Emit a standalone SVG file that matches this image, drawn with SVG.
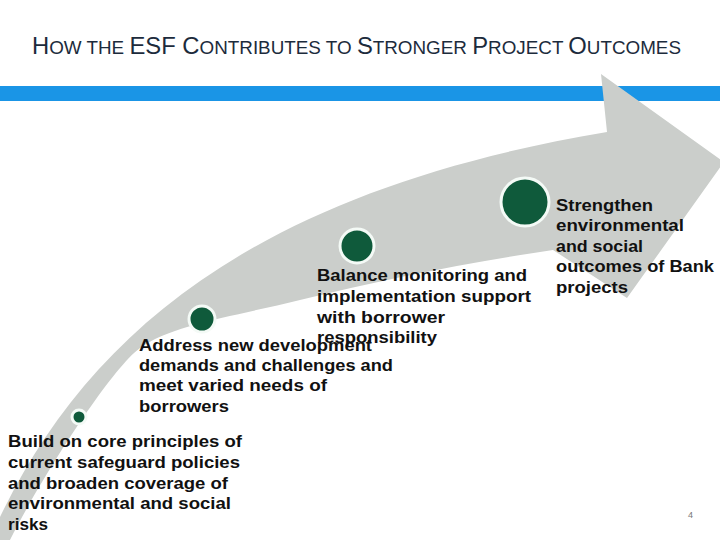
<svg xmlns="http://www.w3.org/2000/svg" width="720" height="540" viewBox="0 0 720 540">
<style>
.title{font-family:"Liberation Sans",Arial,sans-serif;fill:#1c2b3c;}
.big{font-size:24px;}
.sm{font-size:19px;}
.lbl{font-family:"Liberation Sans",Arial,sans-serif;font-weight:bold;font-size:17px;fill:#111;}
.dot{fill:#0f5a3b;stroke:#f4faf6;stroke-width:3;}
.pg{font-family:"Liberation Sans",Arial,sans-serif;font-size:9px;fill:#777;}
</style>
<rect width="720" height="540" fill="#fff"/>
<text class="title" x="32" y="54" textLength="649" lengthAdjust="spacingAndGlyphs"><tspan class="big">H</tspan><tspan class="sm">OW THE </tspan><tspan class="big">ESF C</tspan><tspan class="sm">ONTRIBUTES TO </tspan><tspan class="big">S</tspan><tspan class="sm">TRONGER </tspan><tspan class="big">P</tspan><tspan class="sm">ROJECT </tspan><tspan class="big">O</tspan><tspan class="sm">UTCOMES</tspan></text>
<rect id="bar" x="0" y="86" width="720" height="15" fill="#1a95e6"/>
<g id="arrow">
<path d="M -4,548 L 0,517 C 90,330 260,190 607,132 L 601,74 L 724,162 L 627,298 L 553,250 C 470,262 380,280 300,300 C 240,315 170,325 140,348 C 110,370 40,480 10,540 Z" fill="#cbcecb"/>
</g>
<g id="node1"><circle class="dot" cx="79" cy="417" r="7"/>
<text class="lbl"><tspan x="8" y="447" textLength="234" lengthAdjust="spacingAndGlyphs">Build on core principles of</tspan><tspan x="8" y="468" textLength="232" lengthAdjust="spacingAndGlyphs">current safeguard policies</tspan><tspan x="8" y="489" textLength="220" lengthAdjust="spacingAndGlyphs">and broaden coverage of</tspan><tspan x="8" y="509" textLength="223" lengthAdjust="spacingAndGlyphs">environmental and social</tspan><tspan x="8" y="530" textLength="40" lengthAdjust="spacingAndGlyphs">risks</tspan></text></g>
<g id="node2"><circle class="dot" cx="202" cy="319" r="13"/>
<text class="lbl"><tspan x="139" y="351" textLength="233" lengthAdjust="spacingAndGlyphs">Address new development</tspan><tspan x="139" y="371" textLength="254" lengthAdjust="spacingAndGlyphs">demands and challenges and</tspan><tspan x="139" y="391" textLength="188" lengthAdjust="spacingAndGlyphs">meet varied needs of</tspan><tspan x="139" y="412" textLength="90" lengthAdjust="spacingAndGlyphs">borrowers</tspan></text></g>
<g id="node3"><circle class="dot" cx="357" cy="246" r="17"/>
<text class="lbl"><tspan x="317" y="281" textLength="210" lengthAdjust="spacingAndGlyphs">Balance monitoring and</tspan><tspan x="317" y="302" textLength="214" lengthAdjust="spacingAndGlyphs">implementation support</tspan><tspan x="317" y="323" textLength="128" lengthAdjust="spacingAndGlyphs">with borrower</tspan><tspan x="317" y="343" textLength="120" lengthAdjust="spacingAndGlyphs">responsibility</tspan></text></g>
<g id="node4"><circle class="dot" cx="525" cy="202" r="24"/>
<text class="lbl"><tspan x="556" y="211" textLength="97" lengthAdjust="spacingAndGlyphs">Strengthen</tspan><tspan x="556" y="231" textLength="128" lengthAdjust="spacingAndGlyphs">environmental</tspan><tspan x="556" y="252" textLength="87" lengthAdjust="spacingAndGlyphs">and social</tspan><tspan x="556" y="272" textLength="158" lengthAdjust="spacingAndGlyphs">outcomes of Bank</tspan><tspan x="556" y="293" textLength="72" lengthAdjust="spacingAndGlyphs">projects</tspan></text></g>
<text class="pg" x="688" y="518">4</text>
</svg>
